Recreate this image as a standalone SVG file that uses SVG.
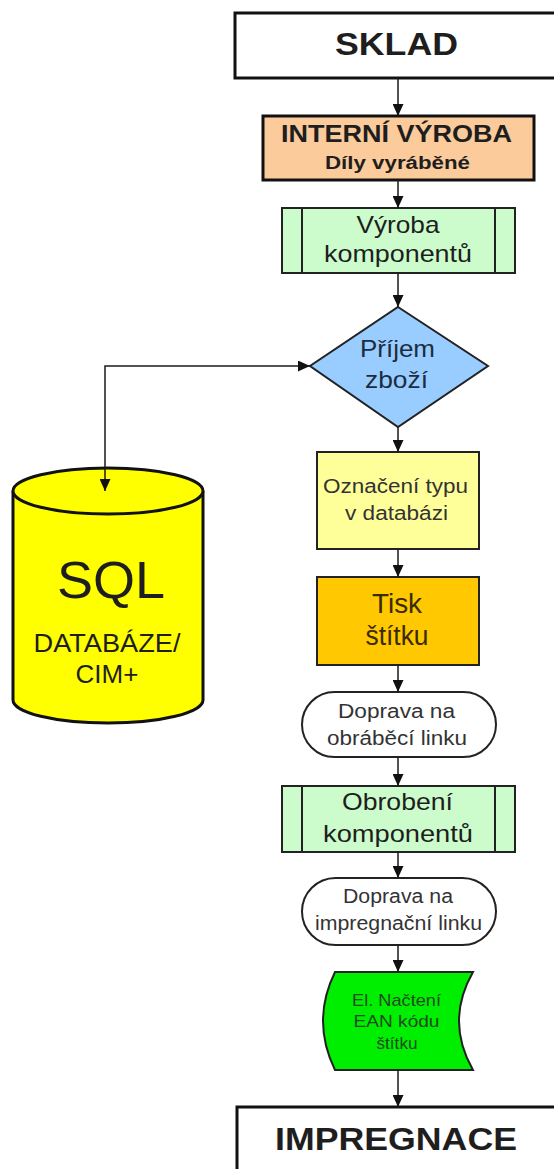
<svg xmlns="http://www.w3.org/2000/svg" width="554" height="1169" viewBox="0 0 554 1169">
  <defs>
    <marker id="arrow" markerUnits="userSpaceOnUse" viewBox="0 0 12 11" refX="12" refY="5.5" markerWidth="12" markerHeight="11" orient="auto-start-reverse">
      <path d="M0,0 L12,5.5 L0,11 z" fill="#111"/>
    </marker>
    <style>
      text { font-family: "Liberation Sans", Arial, sans-serif; text-anchor: middle; fill: #1e1e1e; }
      .b { font-weight: bold; }
      .edge { fill: none; stroke: #1a1a1a; stroke-width: 1.5; marker-end: url(#arrow); }
      .thick { stroke: #111; stroke-width: 3; }
      .thin { stroke: #222; stroke-width: 2; }
    </style>
  </defs>
  <rect width="554" height="1169" fill="#ffffff"/>

  <g id="sklad">
    <rect x="235" y="13" width="330" height="65" fill="#ffffff" class="thick"/>
    <text x="396.5" y="55" class="b" font-size="32" textLength="123" lengthAdjust="spacingAndGlyphs">SKLAD</text>
  </g>

  <g id="interni-vyroba">
    <rect x="263" y="116" width="271" height="64" fill="#fbcb9c" class="thick"/>
    <text x="396.5" y="142" class="b" font-size="24" textLength="231" lengthAdjust="spacingAndGlyphs">INTERNÍ VÝROBA</text>
    <text x="397.5" y="169" class="b" font-size="18" textLength="145" lengthAdjust="spacingAndGlyphs">Díly vyráběné</text>
  </g>

  <g id="vyroba-komponentu">
    <rect x="282" y="208" width="233" height="65" fill="#ccfccc" class="thin"/>
    <line x1="302" y1="208" x2="302" y2="273" class="thin"/>
    <line x1="495" y1="208" x2="495" y2="273" class="thin"/>
    <text x="398" y="233" font-size="24" textLength="83" lengthAdjust="spacingAndGlyphs">Výroba</text>
    <text x="398" y="262" font-size="24" textLength="148" lengthAdjust="spacingAndGlyphs">komponentů</text>
  </g>

  <g id="prijem-zbozi">
    <polygon points="398,307 488,366 398,427 310,366" fill="#99ccff" class="thin"/>
    <text x="397.5" y="357" font-size="24" textLength="75" lengthAdjust="spacingAndGlyphs" style="fill:#1c2c40">Příjem</text>
    <text x="396.5" y="388" font-size="24" textLength="63" lengthAdjust="spacingAndGlyphs" style="fill:#1c2c40">zboží</text>
  </g>

  <g id="sql-databaze">
    <path d="M13,491 V700 A95,23 0 0 0 203,700 V491" fill="#ffff00" class="thick"/>
    <ellipse cx="108" cy="491" rx="95" ry="23" fill="#ffff00" class="thick"/>
    <text x="111" y="598" font-size="52" textLength="108" lengthAdjust="spacingAndGlyphs">SQL</text>
    <text x="107" y="652" font-size="26" textLength="147" lengthAdjust="spacingAndGlyphs">DATABÁZE/</text>
    <text x="107" y="683" font-size="26">CIM+</text>
  </g>

  <g id="oznaceni-typu">
    <rect x="317" y="452" width="162" height="97" fill="#ffff99" class="thin"/>
    <text x="395.5" y="493" font-size="20" textLength="145" lengthAdjust="spacingAndGlyphs" style="fill:#333">Označení typu</text>
    <text x="396.5" y="520" font-size="20" textLength="103" lengthAdjust="spacingAndGlyphs" style="fill:#333">v databázi</text>
  </g>

  <g id="tisk-stitku">
    <rect x="317" y="577" width="162" height="88" fill="#ffc800" class="thin"/>
    <text x="397" y="613" font-size="27" textLength="50" lengthAdjust="spacingAndGlyphs" style="fill:#3a2c00">Tisk</text>
    <text x="397" y="645" font-size="27" textLength="63" lengthAdjust="spacingAndGlyphs" style="fill:#3a2c00">štítku</text>
  </g>

  <g id="doprava-obrabeci">
    <rect x="302" y="692" width="194" height="65" rx="32.5" ry="32.5" fill="#ffffff" class="thin"/>
    <text x="396.5" y="718" font-size="20" textLength="117" lengthAdjust="spacingAndGlyphs" style="fill:#333">Doprava na</text>
    <text x="397" y="745" font-size="20" textLength="140" lengthAdjust="spacingAndGlyphs" style="fill:#333">obráběcí linku</text>
  </g>

  <g id="obrobeni-komponentu">
    <rect x="282" y="786" width="233" height="66" fill="#ccfccc" class="thin"/>
    <line x1="302" y1="786" x2="302" y2="852" class="thin"/>
    <line x1="495" y1="786" x2="495" y2="852" class="thin"/>
    <text x="397.5" y="810" font-size="24" textLength="111" lengthAdjust="spacingAndGlyphs">Obrobení</text>
    <text x="398" y="842" font-size="24" textLength="150" lengthAdjust="spacingAndGlyphs">komponentů</text>
  </g>

  <g id="doprava-impregnacni">
    <rect x="302" y="878" width="194" height="67" rx="33.5" ry="33.5" fill="#ffffff" class="thin"/>
    <text x="398" y="903" font-size="20" textLength="110" lengthAdjust="spacingAndGlyphs" style="fill:#333">Doprava na</text>
    <text x="398.5" y="930" font-size="20" textLength="167" lengthAdjust="spacingAndGlyphs" style="fill:#333">impregnační linku</text>
  </g>

  <g id="nacteni-ean">
    <path d="M335,972 L473,972 Q445,1021 473,1070 L335,1070 Q311,1021 335,972 Z" fill="#00ee00" class="thin"/>
    <text x="396.5" y="1006" font-size="17" textLength="89" lengthAdjust="spacingAndGlyphs" style="fill:#1f4a1f">El. Načtení</text>
    <text x="396.5" y="1027" font-size="17" textLength="86" lengthAdjust="spacingAndGlyphs" style="fill:#1f4a1f">EAN kódu</text>
    <text x="397" y="1049" font-size="17" textLength="41" lengthAdjust="spacingAndGlyphs" style="fill:#1f4a1f">štítku</text>
  </g>

  <g id="impregnace">
    <rect x="237" y="1107" width="330" height="80" fill="#ffffff" class="thick"/>
    <text x="396" y="1150" class="b" font-size="32" textLength="242" lengthAdjust="spacingAndGlyphs">IMPREGNACE</text>
  </g>

  <!-- connectors, drawn last so arrowheads sit on top of the shapes -->
  <g id="connectors">
    <path class="edge" d="M398,78 V116"/>
    <path class="edge" d="M398,180 V208"/>
    <path class="edge" d="M398,273 V307"/>
    <path class="edge" d="M398,427 V452"/>
    <path class="edge" d="M398,549 V577"/>
    <path class="edge" d="M398,665 V692"/>
    <path class="edge" d="M398,757 V786"/>
    <path class="edge" d="M398,852 V878"/>
    <path class="edge" d="M398,945 V972"/>
    <path class="edge" d="M398,1070 V1107"/>
    <path class="edge" d="M105,491 V366 H310" marker-start="url(#arrow)"/>
  </g>
</svg>
